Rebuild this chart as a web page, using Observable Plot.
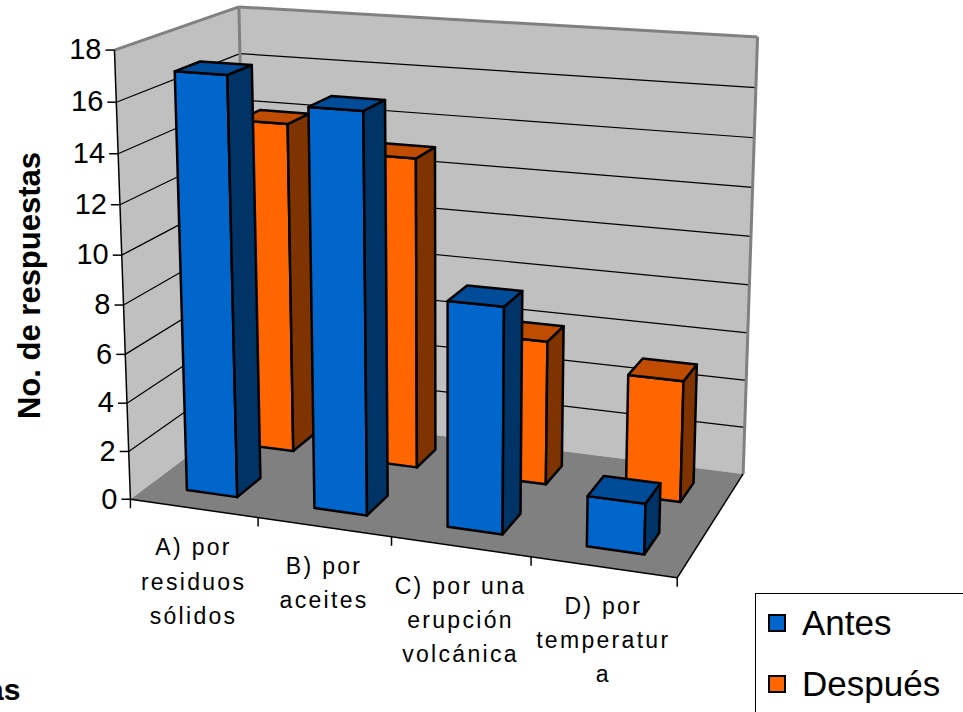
<!DOCTYPE html>
<html>
<head>
<meta charset="utf-8">
<script src="https://cdn.jsdelivr.net/npm/d3@7"></script>
<script src="https://cdn.jsdelivr.net/npm/@observablehq/plot@0.6"></script>
<style>
  html, body { margin: 0; padding: 0; background: #fff; }
  #wrap { position: relative; width: 963px; height: 712px; overflow: hidden;
          font-family: "Liberation Sans", Arial, sans-serif; }
  #legend { position: absolute; left: 755px; top: 593px; width: 240px; height: 150px;
            border: 1px solid #000; background: #fff; box-sizing: border-box; }
  .item { position: absolute; left: 12px; height: 40px; display: flex; align-items: center;
          font-size: 35px; color: #000; }
  .sw { width: 14px; height: 14px; border: 2px solid #000; margin-right: 16px; }
  g[font-size="23"] text { letter-spacing: 2.3px; }
</style>
</head>
<body>
<div id="wrap">
  <div id="chart"></div>
  <div id="legend"></div>
</div>
<script>
// Survey answers, before and after
const categories = [
  "A) por\nresiduos\nsólidos",
  "B) por\naceites",
  "C) por una\nerupción\nvolcánica",
  "D) por\ntemperatur\na"
];
const seriesNames = ["Antes", "Después"];
const antes = [17, 16, 9, 2];
const despues = [14, 13, 6, 5];
const valueTicks = [0, 2, 4, 6, 8, 10, 12, 14, 16, 18];
const yMax = 18;

// Face colours of each series: front, side, top
const seriesColors = [
  {front: "#0066cc", side: "#003366", top: "#004c99"},
  {front: "#ff6600", side: "#7f3300", top: "#bf4c00"}
];

// 3-D box: x = category (0..4), y = value (0..18), z = depth row (0..2)
const nCat = categories.length;
const depth = 2;

// Camera calibration: known corners of the box and where they sit on the page
const viewAnchors = [
  [0, 0, 0, 131, 499],
  [0, 10, 0, 120, 255],
  [0, 18, 0, 115, 49],
  [0, 18, 2, 238, 6],
  [0, 16, 2, 240, 53],
  [0, 14, 2, 240, 100],
  [4, 18, 2, 757, 37],
  [4, 0, 2, 743, 473],
  [4, 0, 0, 677, 577],
  [1, 0, 0, 258, 517],
  [2, 0, 0, 389, 536],
  [3, 0, 0, 531, 557]
];

// Least-squares perspective camera (DLT) from the calibration points
function fitView(anchors) {
  const s = 100;
  const rows = [], rhs = [];
  for (const [X, Y, Z, u0, v0] of anchors) {
    const u = u0 / s, v = v0 / s;
    rows.push([X, Y, Z, 1, 0, 0, 0, 0, -u * X, -u * Y, -u * Z]); rhs.push(u);
    rows.push([0, 0, 0, 0, X, Y, Z, 1, -v * X, -v * Y, -v * Z]); rhs.push(v);
  }
  const n = 11;
  const M = Array.from({length: n}, () => new Array(n + 1).fill(0));
  rows.forEach((r, k) => {
    for (let i = 0; i < n; i++) {
      for (let j = 0; j < n; j++) M[i][j] += r[i] * r[j];
      M[i][n] += r[i] * rhs[k];
    }
  });
  for (let c = 0; c < n; c++) {
    let piv = c;
    for (let r = c + 1; r < n; r++) if (Math.abs(M[r][c]) > Math.abs(M[piv][c])) piv = r;
    [M[c], M[piv]] = [M[piv], M[c]];
    for (let r = 0; r < n; r++) {
      if (r === c) continue;
      const f = M[r][c] / M[c][c];
      for (let j = c; j <= n; j++) M[r][j] -= f * M[c][j];
    }
  }
  const p = M.map((row, i) => row[n] / row[i]);
  return ([X, Y, Z]) => {
    const w = p[8] * X + p[9] * Y + p[10] * Z + 1;
    return [
      s * (p[0] * X + p[1] * Y + p[2] * Z + p[3]) / w,
      s * (p[4] * X + p[5] * Y + p[6] * Z + p[7]) / w
    ];
  };
}
const project = fitView(viewAnchors);

// Polygons as closed point lists
function polygon(id, corners, fill) {
  return corners.map(c => {
    const [px, py] = project(c);
    return {id, px, py, fill};
  });
}
function segment(a, b) {
  const [x1, y1] = project(a), [x2, y2] = project(b);
  return {x1, y1, x2, y2};
}

// Walls and floor
const walls = [
  ...polygon("left", [[0, 0, 0], [0, yMax, 0], [0, yMax, depth], [0, 0, depth]], "#c0c0c0"),
  ...polygon("back", [[0, 0, depth], [0, yMax, depth], [nCat, yMax, depth], [nCat, 0, depth]], "#c0c0c0"),
  ...polygon("floor", [[0, 0, 0], [nCat, 0, 0], [nCat, 0, depth], [0, 0, depth]], "#808080")
];

// Gridlines on the left and back walls
const grid = valueTicks.filter(v => v > 0 && v < yMax).flatMap(v => [
  segment([0, v, 0], [0, v, depth]),
  segment([0, v, depth], [nCat, v, depth])
]);

// Wall borders
const borders = [
  segment([0, yMax, 0], [0, yMax, depth]),
  segment([0, yMax, depth], [nCat, yMax, depth]),
  segment([0, yMax, depth], [0, 0, depth]),
  segment([nCat, yMax, depth], [nCat, 0, depth])
];

// Axis lines and ticks
const axisLines = [
  segment([0, 0, 0], [0, yMax, 0]),
  segment([0, 0, 0], [nCat, 0, 0]),
  segment([nCat, 0, 0], [nCat, 0, depth])
];
const valueTickMarks = valueTicks.map(v => {
  const [px, py] = project([0, v, 0]);
  return {x1: px - 9, y1: py, x2: px, y2: py, label: String(v)};
});
const catTickMarks = d3.range(nCat + 1).map(i => {
  const [px, py] = project([i, 0, 0]);
  return {x1: px, y1: py, x2: px, y2: py + 9};
});
const catLabels = categories.map((c, i) => {
  const [px, py] = project([i + 0.5, 0, 0]);
  return {px, py, label: c};
});

// Bars: back row first, then front row, left to right
const seriesValues = [antes, despues];
const bars = [];
for (const s of [1, 0]) {
  seriesValues[s].forEach((v, i) => {
    const x0 = i + 0.3, x1 = i + 0.7, z0 = s + 0.3, z1 = s + 0.7;
    const col = seriesColors[s];
    const id = `${seriesNames[s]}-${i}`;
    bars.push(
      ...polygon(id + "-front", [[x0, 0, z0], [x1, 0, z0], [x1, v, z0], [x0, v, z0]], col.front),
      ...polygon(id + "-side", [[x1, 0, z0], [x1, 0, z1], [x1, v, z1], [x1, v, z0]], col.side),
      ...polygon(id + "-top", [[x0, v, z0], [x1, v, z0], [x1, v, z1], [x0, v, z1]], col.top)
    );
  });
}

const titles = [
  {text: "No. de respuestas", x: 30, y: 285},
  {text: "Preguntas", x: 20, y: 690}
];

const chart = Plot.plot({
  width: 963,
  height: 712,
  margin: 0,
  style: {background: "#fff", fontFamily: "'Liberation Sans', Arial, sans-serif"},
  x: {domain: [0, 963], range: [0, 963], axis: null},
  y: {domain: [0, 712], range: [0, 712], axis: null},
  color: {type: "identity"},
  marks: [
    Plot.line(walls, {x: "px", y: "py", z: "id", fill: "fill", stroke: "none", curve: "linear-closed"}),
    Plot.link(grid, {x1: "x1", y1: "y1", x2: "x2", y2: "y2", stroke: "#000", strokeWidth: 1.2}),
    Plot.link(borders, {x1: "x1", y1: "y1", x2: "x2", y2: "y2", stroke: "#808080", strokeWidth: 3}),
    Plot.link(axisLines, {x1: "x1", y1: "y1", x2: "x2", y2: "y2", stroke: "#000", strokeWidth: 1.5}),
    Plot.link(valueTickMarks, {x1: "x1", y1: "y1", x2: "x2", y2: "y2", stroke: "#000", strokeWidth: 1.5}),
    Plot.link(catTickMarks, {x1: "x1", y1: "y1", x2: "x2", y2: "y2", stroke: "#000", strokeWidth: 1.5}),
    Plot.text(valueTickMarks, {x: "x1", y: "y1", text: "label", dx: -4, textAnchor: "end",
      fontSize: 29, fill: "#000"}),
    Plot.text(catLabels, {x: "px", y: "py", text: "label", dy: 23, lineAnchor: "top",
      lineHeight: 1.48, fontSize: 23, fill: "#000"}),
    Plot.line(bars, {x: "px", y: "py", z: "id", fill: "fill", stroke: "#000", strokeWidth: 2.5,
      strokeLinejoin: "round", curve: "linear-closed"}),
    Plot.text(titles.slice(0, 1), {x: "x", y: "y", text: "text", rotate: -90,
      fontSize: 31, fontWeight: "bold", fill: "#000"}),
    Plot.text(titles.slice(1), {x: "x", y: "y", text: "text", textAnchor: "end",
      fontSize: 30, fontWeight: "bold", fill: "#000"})
  ]
});
document.getElementById("chart").append(chart);

// Legend
const legend = document.getElementById("legend");
seriesNames.forEach((name, s) => {
  const item = document.createElement("div");
  item.className = "item";
  item.style.top = `${9 + s * 61}px`;
  const sw = document.createElement("div");
  sw.className = "sw";
  sw.style.background = seriesColors[s].front;
  item.append(sw, document.createTextNode(name));
  legend.append(item);
});
</script>
</body>
</html>
